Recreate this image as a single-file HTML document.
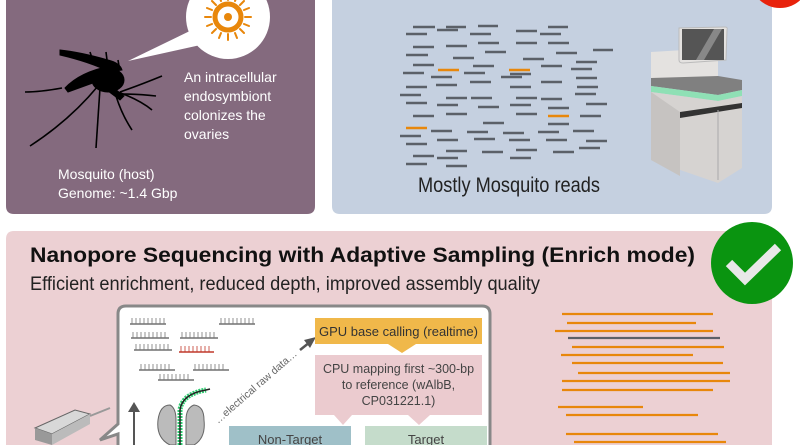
<!DOCTYPE html>
<html><head><meta charset="utf-8"><style>
html,body{margin:0;padding:0;background:#fff}
svg{display:block}
text{font-family:"Liberation Sans",sans-serif}
</style></head><body>
<svg width="800" height="445" viewBox="0 0 800 445" xmlns="http://www.w3.org/2000/svg">
<path d="M6,0 H315 V206 Q315,214 307,214 H14 Q6,214 6,206 Z" fill="#846a7e"/>
<path d="M332,0 H772 V206 Q772,214 764,214 H340 Q332,214 332,206 Z" fill="#c5d0e0"/>
<circle cx="780" cy="-22" r="30" fill="#e8220c"/>
<circle cx="228" cy="17" r="42" fill="#fff"/>
<path d="M196,28 L128,61 L205,44 Z" fill="#fff"/>
<g stroke="#e8870b" stroke-width="2" fill="none">
<circle cx="228" cy="17" r="13" stroke-width="5"/>
<g stroke-linecap="round">
<path d="M228,0v-6M228,34v6M211,17h-6M245,17h6M216,5l-4,-4M240,5l4,-4M216,29l-4,4M240,29l4,4M221,1l-2,-5M235,1l2,-5M221,33l-2,5M235,33l2,5M212,10l-5,-2M244,10l5,-2M212,24l-5,2M244,24l5,2"/>
</g></g>
<circle cx="228" cy="17" r="4" fill="#e8870b"/>
<g fill="#000" stroke="#000">
<path d="M60,50 Q80,52 108,60 Q120,63 122,70 L110,72 Q90,62 60,55 Z" stroke-width="1"/>
<path d="M65,88 Q80,72 110,66 L112,76 Q90,84 68,92 Z" stroke-width="1"/>
<ellipse cx="108" cy="80" rx="16" ry="12"/>
<path d="M110,84 Q118,92 124,96 L120,100 Q112,94 104,88Z"/>
</g>
<g stroke="#000" stroke-width="1.6" fill="none">
<path d="M62,88 Q40,92 25,92"/><path d="M98,86 Q70,120 30,146"/>
<path d="M100,88 Q98,120 96,148"/><path d="M116,96 Q122,115 132,130"/>
<path d="M118,92 Q140,100 152,110"/><path d="M120,92 Q140,85 162,76"/>
<path d="M121,94 Q140,94 156,96"/><path d="M90,52 L92,58M106,52 L107,60M118,60L119,66"/>
</g>
<g fill="#fff" font-size="14">
<text x="184" y="82">An intracellular</text>
<text x="184" y="101">endosymbiont</text>
<text x="184" y="120">colonizes the</text>
<text x="184" y="139">ovaries</text>
<text x="58" y="179">Mosquito (host)</text>
<text x="58" y="198">Genome: ~1.4 Gbp</text>
</g>
<g stroke="#5b6068" stroke-width="2.6">
<path d="M413,27h22M446,27h20M478,26h20M548,27h20M406,34h21M437,30h21M470,34h21M516,31h21M540,34h21M413,47h21M446,46h21M478,43h21M516,43h21M548,43h21M406,55h22M485,52h21M556,53h21M593,50h20M453,58h21M523,59h21M413,65h21M473,66h21M541,66h21M576,62h21M403,73h21M464,73h21M510,74h21M571,69h21M431,77h21M501,77h21M576,78h21M470,82h21M541,82h21M406,87h21M436,85h21M510,87h21M577,87h21M400,95h21M446,98h21M471,98h21M516,98h21M541,99h21M575,94h21M406,103h21M437,105h21M478,107h21M510,105h21M548,108h21M586,104h21M413,116h21M446,114h21M516,114h21M580,116h21M400,136h21M431,131h21M467,132h21M503,133h21M538,132h21M573,131h21M483,123h21M548,124h21M406,144h21M437,140h21M474,139h21M509,140h21M546,140h21M586,141h21M446,151h21M482,152h21M516,150h21M553,152h21M579,148h21M413,156h21M437,158h21M510,158h21M406,164h21M446,166h21"/>
</g>
<g stroke="#e8870b" stroke-width="2.6"><path d="M438,70h21M509,70h21M548,116h21M406,128h21"/></g>
<text x="418" y="192" font-size="21" fill="#222" textLength="182" lengthAdjust="spacingAndGlyphs">Mostly Mosquito reads</text>
<g>
<path d="M651,52 L718,48 L718,78 L651,80 Z" fill="#e4e2e0"/>
<path d="M679,28 L725,27 Q728,27 727,30 L726,60 L683,63 Q679,63 679,60 Z" fill="#e4e2e0" stroke="#bbb"/>
<rect x="682" y="29" width="42" height="31" fill="#555"/>
<path d="M696,60 L714,29 L722,29 L704,60 Z" fill="#888"/>
<path d="M651,78 L718,76 L742,80 L742,90 L718,95 L651,86 Z" fill="#808080"/>
<path d="M651,86 L718,95 L742,90 L742,96 L718,101 L651,92 Z" fill="#8fe0b5"/>
<path d="M651,92 L718,101 L742,96 L742,168 L718,183 L651,160 Z" fill="#d6d3d1"/>
<path d="M680,112 L742,103 L742,108 L680,118 Z" fill="#333"/>
<path d="M651,92 L680,112 L680,176 L651,160 Z" fill="#c6c3c1"/>
<path d="M718,110 V180" stroke="#aaa"/>
</g>
<path d="M14,231 H764 Q772,231 772,239 V445 H6 V239 Q6,231 14,231 Z" fill="#ecd0d3"/>
<circle cx="752" cy="263" r="41" fill="#0a9410"/>
<path d="M729,263 L745,279 L778,247" stroke="#e8e8e8" stroke-width="9" fill="none"/>
<text x="30" y="262" font-size="21" font-weight="bold" fill="#111" textLength="665" lengthAdjust="spacingAndGlyphs">Nanopore Sequencing with Adaptive Sampling (Enrich mode)</text>
<text x="30" y="290" font-size="19" fill="#222" textLength="510" lengthAdjust="spacingAndGlyphs">Efficient enrichment, reduced depth, improved assembly quality</text>
<g stroke="#e8870b" stroke-width="2.2">
<path d="M562,314H713M567,323H696M555,331H713M572,347H724M561,355H693M572,363H723M578,373H730M562,381H730M562,390H713M558,407H643M566,415H698M566,434H718M574,442H726"/>
</g>
<path d="M568,338H720" stroke="#5b6068" stroke-width="2.2"/>
<path d="M128,306 H482 Q490,306 490,314 V450 H118 V434 L100,440 L118,424 V314 Q118,306 126,306 Z" fill="#fff" stroke="#888" stroke-width="3"/>
<g stroke="#555" stroke-width="1.3">
<path d="M130,324h36M219,324h36M131,338h38M180,338h38M134,350h38M139,370h36M193,370h36M158,380h36"/>
</g>
<path d="M179,352h35" stroke="#c0392b" stroke-width="1.5"/>
<g stroke="#777" stroke-width="0.8">
<path d="M132,318v6M136,318v6M140,318v6M144,318v6M148,318v6M152,318v6M156,318v6M160,318v6M164,318v6M221,318v6M225,318v6M229,318v6M233,318v6M237,318v6M241,318v6M245,318v6M249,318v6M253,318v6M133,332v6M137,332v6M141,332v6M145,332v6M149,332v6M153,332v6M157,332v6M161,332v6M165,332v6M182,332v6M186,332v6M190,332v6M194,332v6M198,332v6M202,332v6M206,332v6M210,332v6M214,332v6M136,344v6M140,344v6M144,344v6M148,344v6M152,344v6M156,344v6M160,344v6M164,344v6M168,344v6M141,364v6M145,364v6M149,364v6M153,364v6M157,364v6M161,364v6M165,364v6M169,364v6M195,364v6M199,364v6M203,364v6M207,364v6M211,364v6M215,364v6M219,364v6M223,364v6M160,374v6M164,374v6M168,374v6M172,374v6M176,374v6M180,374v6M184,374v6M188,374v6"/>
</g>
<g stroke="#c0392b" stroke-width="0.8"><path d="M181,346v6M185,346v6M189,346v6M193,346v6M197,346v6M201,346v6M205,346v6M209,346v6"/></g>
<path d="M134,445 V406" stroke="#555" stroke-width="2"/>
<path d="M128,412 L134,402 L140,412 Z" fill="#555"/>
<path d="M170,445 Q156,438 158,420 Q160,405 170,405 Q176,408 176,420 L176,445 Z" fill="#bbb" stroke="#666"/>
<path d="M186,445 V420 Q186,408 194,405 Q204,406 204,420 Q206,438 194,445 Z" fill="#bbb" stroke="#666"/>
<path d="M180,445 V410 Q182,394 206,390" stroke="#2ecc71" stroke-width="5" fill="none" stroke-dasharray="2,1"/>
<path d="M180,445 V410 Q182,394 206,390 L210,389" stroke="#222" stroke-width="1.5" fill="none"/>
<path d="M35,428 L75,410 L90,414 L52,434 Z" fill="#d8d8d8" stroke="#666"/>
<path d="M35,428 L52,434 L52,445 L35,440 Z" fill="#999"/>
<path d="M52,434 L90,414 L90,424 L52,445 Z" fill="#bbb"/>
<path d="M90,416 L110,408" stroke="#999" stroke-width="2"/>
<text x="0" y="0" font-size="10.5" fill="#666" transform="translate(218,424) rotate(-41)">…electrical raw data…</text>
<path d="M300,350 L310,342" stroke="#555" stroke-width="2.5"/>
<path d="M304,340 L316,337 L310,348 Z" fill="#555"/>
<rect x="315" y="318" width="167" height="26" fill="#f0b84a"/>
<path d="M388,344 L402,353 L416,344 Z" fill="#f0b84a"/>
<text x="398.5" y="336" font-size="13" fill="#333" text-anchor="middle">GPU base calling (realtime)</text>
<rect x="315" y="355" width="167" height="60" fill="#ebcbcf"/>
<path d="M334,415 L343,425 L352,415 Z M408,415 L419,425 L430,415 Z" fill="#ebcbcf"/>
<g font-size="12.5" fill="#444" text-anchor="middle">
<text x="398.5" y="373">CPU mapping first ~300-bp</text>
<text x="398.5" y="389">to reference (wAlbB,</text>
<text x="398.5" y="405">CP031221.1)</text>
</g>
<rect x="229" y="426" width="122" height="22" fill="#9fc0c8"/>
<rect x="365" y="426" width="122" height="22" fill="#c5dccb"/>
<text x="290" y="444" font-size="13" fill="#444" text-anchor="middle">Non-Target</text>
<text x="426" y="444" font-size="13" fill="#444" text-anchor="middle">Target</text>
</svg>
</body></html>
